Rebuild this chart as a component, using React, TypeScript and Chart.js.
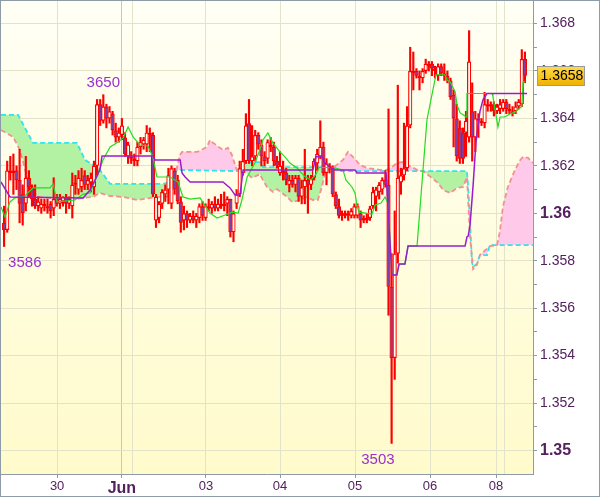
import React, { useEffect, useRef } from 'react';
import { Chart, registerables } from 'chart.js';

Chart.register(...registerables);

const FONT = "'Liberation Sans', Arial, sans-serif";

// Hourly candles (index 0..168)
const openP = [1.3596,1.3593,1.3618,1.3617,1.3618,1.3614,1.3608,1.3604,1.3615,1.3611,
1.3606,1.3603,1.3602,1.3604,1.3603,1.3604,1.3602,1.3606,1.3604,1.3605,
1.3607,1.3604,1.3603,1.3612,1.3610,1.3611,1.3616,1.3612,1.3613,1.3611,
1.3620,1.3646,1.3639,1.3645,1.3640,1.3642,1.3635,1.3632,1.3633,1.3632,
1.3624,1.3624,1.3623,1.3622,1.3628,1.3629,1.3629,1.3634,1.3633,1.3597,
1.3598,1.3604,1.3608,1.3610,1.3604,1.3618,1.3614,1.3605,1.3597,1.3600,
1.3597,1.3599,1.3597,1.3598,1.3603,1.3598,1.3603,1.3602,1.3604,1.3602,
1.3604,1.3603,1.3604,1.3606,1.3592,1.3604,1.3608,1.3617,1.3622,1.3638,
1.3622,1.3624,1.3633,1.3629,1.3624,1.3623,1.3629,1.3628,1.3622,1.3617,
1.3618,1.3617,1.3612,1.3614,1.3612,1.3615,1.3607,1.3611,1.3614,1.3612,
1.3615,1.3621,1.3624,1.3628,1.3617,1.3620,1.3619,1.3608,1.3603,1.3599,
1.3600,1.3599,1.3599,1.3599,1.3599,1.3600,1.3597,1.3597,1.3598,1.3603,
1.3607,1.3609,1.3610,1.3614,1.3612,1.3569,1.3539,1.3583,1.3613,1.3616,
1.3619,1.3637,1.3660,1.3660,1.3658,1.3657,1.3660,1.3663,1.3663,1.3661,
1.3658,1.3662,1.3659,1.3658,1.3656,1.3650,1.3640,1.3636,1.3634,1.3634,
1.3632,1.3643,1.3632,1.3640,1.3639,1.3638,1.3646,1.3645,1.3646,1.3643,
1.3644,1.3644,1.3647,1.3644,1.3642,1.3643,1.3645,1.3646,1.3665];

const highP = [1.3603,1.3622,1.3624,1.3625,1.3620,1.3627,1.3612,1.3624,1.3618,1.3612,
1.3612,1.3607,1.3606,1.3606,1.3606,1.3605,1.3615,1.3608,1.3608,1.3607,
1.3608,1.3607,1.3617,1.3616,1.3618,1.3619,1.3618,1.3616,1.3617,1.3622,
1.3648,1.3648,1.3650,1.3646,1.3645,1.3643,1.3638,1.3636,1.3640,1.3634,
1.3630,1.3626,1.3625,1.3630,1.3632,1.3632,1.3637,1.3636,1.3634,1.3608,
1.3605,1.3610,1.3612,1.3619,1.3620,1.3619,1.3616,1.3607,1.3603,1.3601,
1.3600,1.3601,1.3600,1.3604,1.3605,1.3604,1.3606,1.3605,1.3607,1.3606,
1.3608,1.3609,1.3607,1.3606,1.3601,1.3610,1.3622,1.3627,1.3642,1.3648,
1.3637,1.3635,1.3634,1.3631,1.3626,1.3631,1.3632,1.3630,1.3624,1.3626,
1.3622,1.3619,1.3616,1.3616,1.3616,1.3616,1.3614,1.3627,1.3616,1.3616,
1.3623,1.3627,1.3639,1.3630,1.3623,1.3621,1.3620,1.3609,1.3606,1.3601,
1.3601,1.3601,1.3602,1.3604,1.3604,1.3601,1.3599,1.3600,1.3603,1.3611,
1.3611,1.3613,1.3615,1.3618,1.3644,1.3583,1.3601,1.3654,1.3619,1.3638,
1.3645,1.3670,1.3668,1.3661,1.3660,1.3661,1.3665,1.3664,1.3664,1.3662,
1.3663,1.3663,1.3663,1.3660,1.3657,1.3652,1.3646,1.3639,1.3636,1.3643,
1.3677,1.3655,1.3643,1.3642,1.3640,1.3651,1.3648,1.3647,1.3647,1.3646,
1.3648,1.3648,1.3648,1.3646,1.3645,1.3647,1.3648,1.3669,1.3668];

const lowP = [1.3586,1.3592,1.3614,1.3608,1.3610,1.3596,1.3595,1.3601,1.3607,1.3603,
1.3602,1.3601,1.3600,1.3601,1.3600,1.3598,1.3599,1.3603,1.3602,1.3603,
1.3600,1.3602,1.3598,1.3608,1.3608,1.3609,1.3610,1.3610,1.3609,1.3608,
1.3616,1.3637,1.3638,1.3636,1.3638,1.3633,1.3630,1.3630,1.3631,1.3624,
1.3621,1.3621,1.3620,1.3620,1.3625,1.3627,1.3626,1.3626,1.3607,1.3594,
1.3596,1.3602,1.3605,1.3604,1.3602,1.3608,1.3604,1.3592,1.3593,1.3594,
1.3596,1.3596,1.3594,1.3596,1.3597,1.3597,1.3601,1.3600,1.3601,1.3601,
1.3602,1.3601,1.3599,1.3590,1.3588,1.3602,1.3607,1.3616,1.3621,1.3621,
1.3620,1.3622,1.3627,1.3620,1.3620,1.3621,1.3626,1.3620,1.3619,1.3616,
1.3614,1.3612,1.3609,1.3611,1.3609,1.3605,1.3604,1.3604,1.3600,1.3610,
1.3614,1.3618,1.3623,1.3616,1.3612,1.3617,1.3607,1.3602,1.3598,1.3597,
1.3598,1.3597,1.3598,1.3598,1.3598,1.3594,1.3596,1.3596,1.3597,1.3602,
1.3601,1.3606,1.3608,1.3611,1.3557,1.3503,1.3530,1.3579,1.3608,1.3614,
1.3618,1.3636,1.3652,1.3657,1.3652,1.3655,1.3659,1.3660,1.3658,1.3657,
1.3656,1.3658,1.3656,1.3655,1.3648,1.3628,1.3622,1.3621,1.3621,1.3624,
1.3630,1.3622,1.3626,1.3632,1.3637,1.3636,1.3643,1.3643,1.3641,1.3642,
1.3642,1.3643,1.3642,1.3642,1.3641,1.3642,1.3644,1.3645,1.3655];

const closeP = [1.3593,1.3618,1.3617,1.3618,1.3614,1.3604,1.3600,1.3615,1.3611,1.3606,
1.3603,1.3605,1.3604,1.3603,1.3602,1.3601,1.3606,1.3604,1.3606,1.3607,
1.3604,1.3606,1.3612,1.3613,1.3615,1.3614,1.3612,1.3614,1.3615,1.3620,
1.3646,1.3639,1.3645,1.3640,1.3643,1.3635,1.3632,1.3634,1.3637,1.3625,
1.3629,1.3623,1.3622,1.3628,1.3630,1.3631,1.3634,1.3633,1.3608,1.3607,
1.3604,1.3609,1.3610,1.3616,1.3619,1.3610,1.3605,1.3596,1.3600,1.3597,
1.3599,1.3597,1.3599,1.3603,1.3599,1.3603,1.3602,1.3604,1.3602,1.3604,
1.3603,1.3604,1.3606,1.3592,1.3600,1.3608,1.3619,1.3622,1.3637,1.3622,
1.3624,1.3633,1.3629,1.3624,1.3622,1.3630,1.3628,1.3622,1.3620,1.3620,
1.3617,1.3614,1.3614,1.3612,1.3615,1.3607,1.3611,1.3614,1.3612,1.3615,
1.3622,1.3625,1.3628,1.3617,1.3621,1.3619,1.3608,1.3603,1.3599,1.3600,
1.3599,1.3600,1.3601,1.3603,1.3603,1.3597,1.3598,1.3598,1.3602,1.3609,
1.3610,1.3612,1.3614,1.3612,1.3569,1.3539,1.3583,1.3615,1.3616,1.3619,
1.3637,1.3660,1.3659,1.3658,1.3657,1.3660,1.3663,1.3662,1.3661,1.3660,
1.3662,1.3659,1.3658,1.3656,1.3649,1.3640,1.3624,1.3623,1.3623,1.3639,
1.3664,1.3632,1.3640,1.3639,1.3638,1.3646,1.3645,1.3646,1.3643,1.3645,
1.3646,1.3647,1.3644,1.3643,1.3643,1.3645,1.3647,1.3665,1.3658];

// Ichimoku lines: [candle position, price]
const tenkan: [number, number][] = [[-1,1.36027],[0.3,1.35984],[1.9,1.36048],[3.5,1.36065],[6.7,1.36073],[9.3,1.36107],[14.8,1.36107],[15.8,1.36124],[17.1,1.36048],[22.9,1.36056],[25.5,1.36081],[27.7,1.36086],[30,1.36157],[31.9,1.36225],[34.2,1.3628],[36.4,1.36297],[38.4,1.36318],[40,1.36364],[41.6,1.36322],[43.8,1.36288],[46.4,1.36284],[48,1.36238],[49.3,1.36153],[53.5,1.36153],[56.1,1.36132],[57.7,1.36069],[60,1.3606],[63.2,1.36065],[66.4,1.36001],[68.7,1.3598],[71.3,1.35993],[73.5,1.36005],[75.5,1.36001],[76.7,1.36056],[78.4,1.36153],[80.9,1.36212],[82.5,1.36267],[83.5,1.36309],[85.1,1.36339],[86.7,1.36297],[89,1.36259],[90.6,1.36238],[92.2,1.36212],[94.5,1.36191],[97,1.36155],[99,1.3614],[100.6,1.36165],[101.6,1.36193],[104.5,1.36193],[106.8,1.36191],[109.3,1.36183],[110.3,1.3614],[112.2,1.36111],[113.2,1.36086],[113.8,1.36035],[114.5,1.36005],[118.7,1.35997],[119.7,1.36035],[121.6,1.36043],[122.9,1.36069],[123.8,1.36043],[125.1,1.3574],[126.7,1.3574],[127.4,1.35786],[129.3,1.35786],[130.3,1.35862],[133.2,1.35862],[136.4,1.36394],[139.3,1.36584],[142.2,1.36584],[142.9,1.36562],[143.9,1.36554],[145.5,1.36512],[146.1,1.36457],[147.1,1.36423],[148.1,1.36415],[149,1.36406],[149.3,1.36505],[157.4,1.36505],[157.7,1.36491],[159.3,1.36364],[160,1.36406],[161.5,1.36406],[163.2,1.36419],[165,1.36428],[167,1.3645],[167.4,1.36554],[168.1,1.36554]];

const kijun: [number, number][] = [[-1,1.36132],[1.9,1.36069],[25.5,1.36065],[27.7,1.36098],[29.3,1.3614],[30.9,1.36183],[31.6,1.36242],[48,1.36242],[48.7,1.36225],[56.8,1.36225],[57.4,1.3617],[58.4,1.36153],[60,1.36132],[70.6,1.36132],[72.9,1.36107],[74.5,1.36077],[76.1,1.36077],[77.1,1.36183],[99.6,1.36183],[100.6,1.36238],[102.5,1.36238],[103.5,1.36212],[105.1,1.36195],[106.8,1.36183],[113.2,1.36183],[113.8,1.3617],[123.2,1.3617],[125.1,1.3574],[126.7,1.3574],[127.4,1.35786],[129.3,1.35786],[130.3,1.35862],[148.7,1.35862],[149.3,1.359],[149.7,1.35904],[150.3,1.3595],[151.3,1.3612],[152.2,1.363],[153.5,1.3643],[154.5,1.3648],[155.8,1.36505],[168.7,1.36505]];

const senkouA: [number, number][] = [[-1,1.36415],[4.5,1.36415],[9.3,1.36297],[23.5,1.36297],[26.1,1.36225],[28.7,1.36204],[30.9,1.36183],[34.2,1.36124],[51.3,1.36124],[53.5,1.36132],[55.8,1.36183],[75.1,1.36178],[77.7,1.36216],[82.5,1.36216],[83.5,1.36195],[106.1,1.36195],[108.4,1.36178],[149.3,1.36178],[149.7,1.3611],[150.3,1.35972],[150.9,1.35795],[151.3,1.35775],[152.5,1.35786],[153.5,1.35824],[155.8,1.35824],[156.7,1.35866],[170.6,1.35866]];

const senkouB: [number, number][] = [[-1,1.36351],[2.9,1.36322],[5.1,1.36267],[7.4,1.36153],[9.3,1.36098],[10.6,1.36069],[14.8,1.36065],[21.3,1.36056],[25.5,1.36065],[28.7,1.36069],[30.9,1.36086],[34.2,1.36073],[38.4,1.36069],[42.9,1.36056],[44.8,1.3606],[49.3,1.36069],[52.5,1.36069],[54.2,1.36098],[55.8,1.36195],[56.7,1.36246],[57.4,1.36259],[62.2,1.36259],[63.2,1.36263],[65.5,1.36281],[66.4,1.36309],[67.4,1.36297],[70.6,1.36267],[72.2,1.36276],[73.5,1.36246],[74.5,1.36204],[75.1,1.36183],[77.1,1.36183],[80,1.36149],[82.5,1.36165],[83.5,1.3614],[84.8,1.36111],[86.7,1.3609],[88,1.36102],[89.6,1.36086],[91.3,1.36069],[92.9,1.36048],[95.5,1.36056],[97.7,1.36069],[99.6,1.36056],[101.2,1.36056],[102.5,1.36111],[103.5,1.3617],[104.5,1.36183],[106.8,1.36199],[109.3,1.36225],[110.9,1.36259],[112.5,1.36238],[114.8,1.36204],[117.1,1.36191],[121.3,1.36183],[123.5,1.36183],[125.1,1.36195],[126.7,1.36212],[128.4,1.36216],[130,1.36204],[131.6,1.36195],[133.2,1.36183],[135.1,1.36178],[138,1.36149],[140,1.36128],[141.6,1.36098],[143.9,1.36086],[146.1,1.36107],[148.1,1.36111],[149.3,1.36153],[150.3,1.359],[151.3,1.35765],[152.5,1.35782],[153.5,1.35824],[156.7,1.35862],[159,1.35866],[159.9,1.3592],[160.9,1.36027],[162.5,1.36111],[164.8,1.36183],[166.5,1.36225],[167.4,1.36238],[169,1.36234],[170.6,1.36212]];

// Axis ticks
const xTickPos = [17.1, 38.0, 41.3, 65.1, 89.0, 113.2, 137.4, 158.7, 161.3];
const xTickLabels = ['30', 'Jun', '', '03', '04', '05', '06', '08', ''];
const yTickValues = [1.35,1.351,1.352,1.353,1.354,1.355,1.356,1.357,1.358,1.359,1.36,1.361,1.362,1.363,1.364,1.365,1.366,1.367,1.368];
const yTickLabels = ['1.35','','1.352','','1.354','','1.356','','1.358','','1.36','','1.362','','1.364','','1.366','','1.368'];
const yBoldLabels = ['1.35', '1.36'];

// Extreme markers
const markIndex = [32, 0, 125];
const markText = ['3650', '3586', '3503'];
const markAt = ['high', 'low', 'low'];

export default function App() {
  const ref = useRef<HTMLCanvasElement>(null);
  useEffect(() => {
    const canvas = ref.current;
    if (!canvas) return;
    const idx = openP.map((_, i) => i);
    const toXY = (arr: [number, number][]) => arr.map(([x, y]) => ({ x, y }));
    const axisColor = '#8e9aa8';
    const labelColor = '#55205f';

    const bgPlugin = {
      id: 'bgPlugin',
      beforeDraw(chart: any) {
        const { ctx, chartArea: a, width, height } = chart;
        ctx.save();
        ctx.fillStyle = '#ffffff';
        ctx.fillRect(0, 0, width, height);
        const g = ctx.createLinearGradient(0, a.top, 0, a.bottom);
        g.addColorStop(0, '#fffff5');
        g.addColorStop(1, '#fffbcb');
        ctx.fillStyle = g;
        ctx.fillRect(a.left, a.top, a.right - a.left, a.bottom - a.top);
        ctx.restore();
      },
      afterDatasetsDraw(chart: any) {
        const { ctx, scales } = chart;
        const xs = scales.x, ys = scales.y;
        ctx.save();
        ctx.font = `15px ${FONT}`;
        ctx.fillStyle = '#9a2fd0';
        ctx.textBaseline = 'middle';
        markIndex.forEach((i, k) => {
          const px = xs.getPixelForValue(i);
          if (markAt[k] === 'high') {
            ctx.textAlign = 'center';
            ctx.fillText(markText[k], px, ys.getPixelForValue(highP[i]) - 12);
          } else {
            const py = ys.getPixelForValue(lowP[i]) + 16;
            if (px < 100) { ctx.textAlign = 'left'; ctx.fillText(markText[k], px + 4, py); }
            else { ctx.textAlign = 'right'; ctx.fillText(markText[k], px + 3, py); }
          }
        });
        ctx.restore();
      },
      afterDraw(chart: any) {
        const { ctx, scales, width, height } = chart;
        const ys = scales.y;
        const last = closeP[closeP.length - 1];
        const py = ys.getPixelForValue(last);
        const bx = ys.left + 4.5, bw = 47, bh = 19;
        const by = Math.round(py - bh / 2) + 0.5;
        ctx.save();
        const g = ctx.createLinearGradient(0, by, 0, by + bh);
        g.addColorStop(0, '#ffdc4a');
        g.addColorStop(1, '#f0b000');
        ctx.fillStyle = g;
        ctx.fillRect(bx, by, bw, bh);
        ctx.strokeStyle = '#9a9a9a';
        ctx.lineWidth = 1;
        ctx.strokeRect(bx, by, bw, bh);
        ctx.fillStyle = '#000000';
        ctx.font = `14px ${FONT}`;
        ctx.textAlign = 'left';
        ctx.textBaseline = 'middle';
        ctx.fillText(last.toFixed(4), bx + 3, by + bh / 2 + 0.5);
        ctx.strokeStyle = axisColor;
        ctx.strokeRect(0.5, 0.5, width - 1, height - 1);
        ctx.restore();
      },
    };

    const chart = new Chart(canvas, {
      type: 'bar',
      data: {
        datasets: [
          {
            type: 'line', label: 'Senkou A', data: toXY(senkouA),
            borderColor: '#2fe3ef', borderWidth: 1.8, borderDash: [5, 3],
            pointRadius: 0, pointHoverRadius: 0, tension: 0,
            fill: { target: 1, above: '#b3f2a3', below: '#ffcaea' }, order: 10,
          } as any,
          {
            type: 'line', label: 'Senkou B', data: toXY(senkouB),
            borderColor: '#f39090', borderWidth: 1.8, borderDash: [5, 3],
            pointRadius: 0, pointHoverRadius: 0, tension: 0, fill: false, order: 9,
          } as any,
          {
            type: 'bar', label: 'Wick', data: idx.map((i) => ({ x: i, y: [lowP[i], highP[i]] })),
            backgroundColor: '#ff0000', borderWidth: 0, grouped: false,
            barPercentage: 1, categoryPercentage: 1, maxBarThickness: 1.5, order: 5,
          } as any,
          {
            type: 'bar', label: 'Body', data: idx.map((i) => ({ x: i, y: [openP[i], closeP[i]] })),
            backgroundColor: (c: any) => (closeP[c.dataIndex] < openP[c.dataIndex] ? '#7b41a6' : '#fffff2'),
            borderColor: '#ff0000', borderWidth: 1.2, borderSkipped: false, grouped: false,
            barPercentage: 1.35, categoryPercentage: 1, maxBarThickness: 4.2, order: 4,
          } as any,
          {
            type: 'line', label: 'Tenkan', data: toXY(tenkan),
            borderColor: '#22dd22', borderWidth: 1.2, pointRadius: 0, pointHoverRadius: 0,
            tension: 0, fill: false, order: 2,
          } as any,
          {
            type: 'line', label: 'Kijun', data: toXY(kijun),
            borderColor: '#9a1ccc', borderWidth: 1.5, pointRadius: 0, pointHoverRadius: 0,
            tension: 0, fill: false, order: 1,
          } as any,
        ],
      },
      options: {
        responsive: false,
        animation: false,
        devicePixelRatio: 1,
        events: [],
        layout: { padding: { left: 1, top: 1, right: 0, bottom: 0 } },
        plugins: { legend: { display: false }, tooltip: { enabled: false } },
        scales: {
          x: {
            type: 'linear', min: -1, max: 170.61, offset: false,
            grid: {
              offset: false,
              color: (c: any) => (c.index === 1 ? '#c9c9ad' : '#e3e3cb'),
              tickColor: (c: any) => (xTickLabels[c.index] ? axisColor : 'rgba(0,0,0,0)'),
              tickLength: 4, lineWidth: 1,
            },
            border: { display: true, color: axisColor, width: 1 },
            afterBuildTicks: (axis: any) => { axis.ticks = xTickPos.map((v) => ({ value: v })); },
            afterFit: (axis: any) => { axis.height = 23; axis.paddingLeft = 0; axis.paddingRight = 0; },
            ticks: {
              autoSkip: false, maxRotation: 0, minRotation: 0, padding: 1, color: labelColor,
              font: (c: any) => (c.index === 1 ? { family: FONT, size: 16, weight: 'bold' } : { family: FONT, size: 13 }),
              callback: (_v: any, i: number) => xTickLabels[i],
            },
          } as any,
          y: {
            type: 'linear', position: 'right', min: 1.34901, max: 1.36895, beginAtZero: false,
            grid: {
              color: (c: any) => (yTickLabels[c.index] ? '#e3e3cb' : 'rgba(0,0,0,0)'),
              tickColor: axisColor, tickLength: 4, lineWidth: 1,
            },
            border: { display: true, color: axisColor, width: 1 },
            afterBuildTicks: (axis: any) => { axis.ticks = yTickValues.map((v) => ({ value: v })); },
            afterFit: (axis: any) => { axis.width = 67; axis.paddingTop = 0; axis.paddingBottom = 0; },
            ticks: {
              autoSkip: false, padding: 3, color: labelColor,
              font: (c: any) => (yBoldLabels.includes(yTickLabels[c.index]) ? { family: FONT, size: 16, weight: 'bold' } : { family: FONT, size: 14 }),
              callback: (_v: any, i: number) => yTickLabels[i],
            },
          } as any,
        },
      } as any,
      plugins: [bgPlugin],
    });
    return () => chart.destroy();
  }, []);

  return (
    <div style={{ position: 'fixed', left: 0, top: 0, width: 600, height: 497, background: '#ffffff' }}>
      <canvas ref={ref} width={600} height={497} style={{ display: 'block', width: 600, height: 497 }} />
    </div>
  );
}
